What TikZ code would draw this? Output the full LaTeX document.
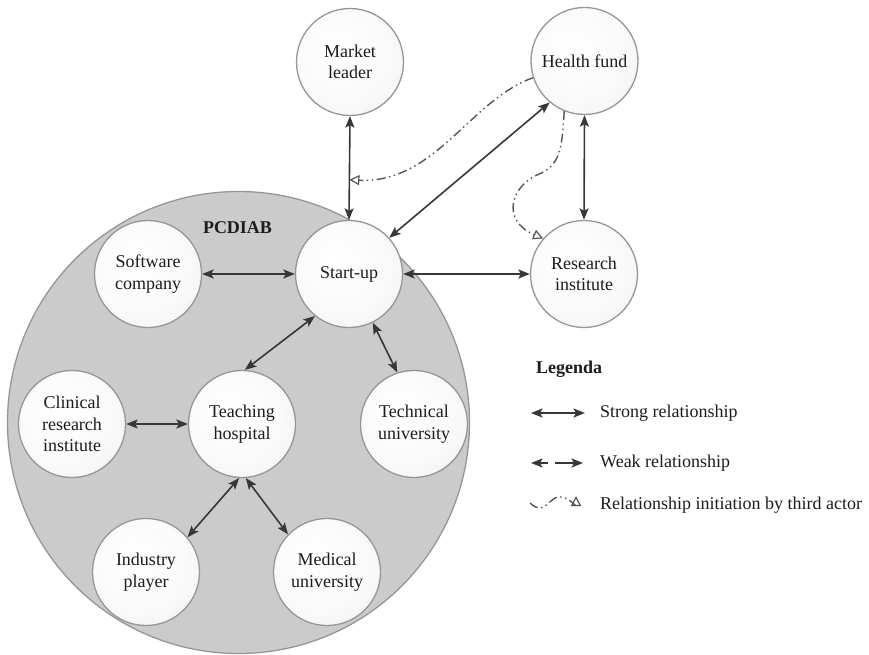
\documentclass[tikz,border=0pt]{standalone}
\usepackage{fontspec}
\setmainfont{Liberation Serif}
\usetikzlibrary{arrows.meta,calc}

\definecolor{clusterfill}{RGB}{203,203,203}
\definecolor{clusterline}{RGB}{150,150,150}
\definecolor{actorline}{RGB}{150,150,150}
\definecolor{actormid}{RGB}{250,250,250}
\definecolor{actorout}{RGB}{234,234,234}
\definecolor{linkcol}{RGB}{55,55,55}
\definecolor{thirdcol}{RGB}{85,85,85}
\definecolor{textcol}{RGB}{28,28,28}

% soft light shading of the actor discs, brightest slightly up-left
\pgfdeclareradialshading{actorshade}{\pgfpoint{-8bp}{8bp}}{%
  color(0bp)=(white); color(22bp)=(actormid); color(50bp)=(actorout)}

\tikzset{
  tipfill/.tip={Stealth[length=11.5pt,width=9pt,inset=2.5pt]},
  tipopen/.tip={Triangle[open,length=10pt,width=10pt,line width=1.2pt]},
  txt/.style={font=\fontsize{18}{21.5}\selectfont, text=textcol},
  actor/.style={txt, circle, draw=actorline, line width=1.3pt,
    minimum size=107pt, inner sep=0pt, align=center,
    shading=actorshade},
  cluster/.style={circle, draw=clusterline, fill=clusterfill,
    line width=1.3pt, minimum size=462pt, inner sep=0pt},
  strong/.style={draw=linkcol, line width=1.6pt, tipfill-tipfill},
  weak/.style={strong, dash pattern=on 9pt off 7pt on 30pt off 0pt},
  third/.style={draw=thirdcol, line width=1.4pt,
    dash pattern=on 9pt off 3.5pt on 1.5pt off 3.5pt on 1.5pt off 3.5pt,
    -tipopen},
}

\begin{document}
\begin{tikzpicture}[x=1pt,y=-1pt]
\useasboundingbox (0,0) rectangle (869,655);

% the PCDIAB cluster
\node[cluster] (pcdiab) at (238.5,422.5) {};
\node[txt, font=\fontsize{18}{21.5}\selectfont\bfseries] (pcdlabel) at (237.5,228) {PCDIAB};

% actors
\node[actor] (ml) at (350,62)  {Market\\leader};
\node[actor] (hf) at (584.5,61) {Health fund};
\node[actor] (su) at (349,274) {Start-up};
\node[actor] (ri) at (584,274) {Research\\institute};
\node[actor] (sc) at (148,274) {Software\\company};
\node[actor] (cr) at (72,424)  {Clinical\\research\\institute};
\node[actor] (th) at (242,424) {Teaching\\hospital};
\node[actor] (tu) at (414,424) {Technical\\university};
\node[actor] (ip) at (146,572) {Industry\\player};
\node[actor] (mu) at (327,572) {Medical\\university};

% strong relationships
\draw[strong] (ml.south) -- (su.north);
\draw[strong] (hf.230) -- (su.42);
\draw[strong] (hf.south) -- (ri.north);
\draw[strong] (su.east) -- (ri.west);
\draw[strong] (sc.east) -- (su.west);
\draw[strong] (su.231) -- (th.87);
\draw[strong] (su.-64) -- (tu.108);
\draw[strong] (cr.east) -- (th.west);
\draw[strong] (th.-93) -- (ip.40);
\draw[strong] (th.-86) -- (mu.136);

% relationships initiated by a third actor
\coordinate (mlsu) at ($(ml.south)!0.613!(su.north)$);
\draw[third] (hf.198) .. controls (470,100) and (435,184) .. (mlsu);
\draw[third] (hf.248) .. controls (562,150) and (560,166) .. (537,175)
  .. controls (512,186) and (500,220) .. (ri.139);

% legend
\node[txt, font=\fontsize{18}{21.5}\selectfont\bfseries, anchor=west, inner sep=0pt]
  (legtitle) at (536,369) {Legenda};

\coordinate (sa) at (531,413);
\coordinate (sb) at (585,413);
\draw[strong] (sa) -- (sb);
\node[txt, anchor=west, inner sep=0pt] (legstrong) at (600,413) {Strong relationship};

\coordinate (wa) at (531,463);
\coordinate (wb) at (583,463);
\draw[weak] (wa) -- (wb);
\node[txt, anchor=west, inner sep=0pt] (legweak) at (600,463) {Weak relationship};

\coordinate (ta) at (530,503);
\coordinate (tb) at (576,496);
\draw[third] (ta) .. controls (546,518) and (549,494) .. (562,497)
  .. controls (571,499) and (576,507) .. (tb);
\node[txt, anchor=west, inner sep=0pt] (legthird) at (600,505) {Relationship initiation by third actor};
\end{tikzpicture}
\end{document}
